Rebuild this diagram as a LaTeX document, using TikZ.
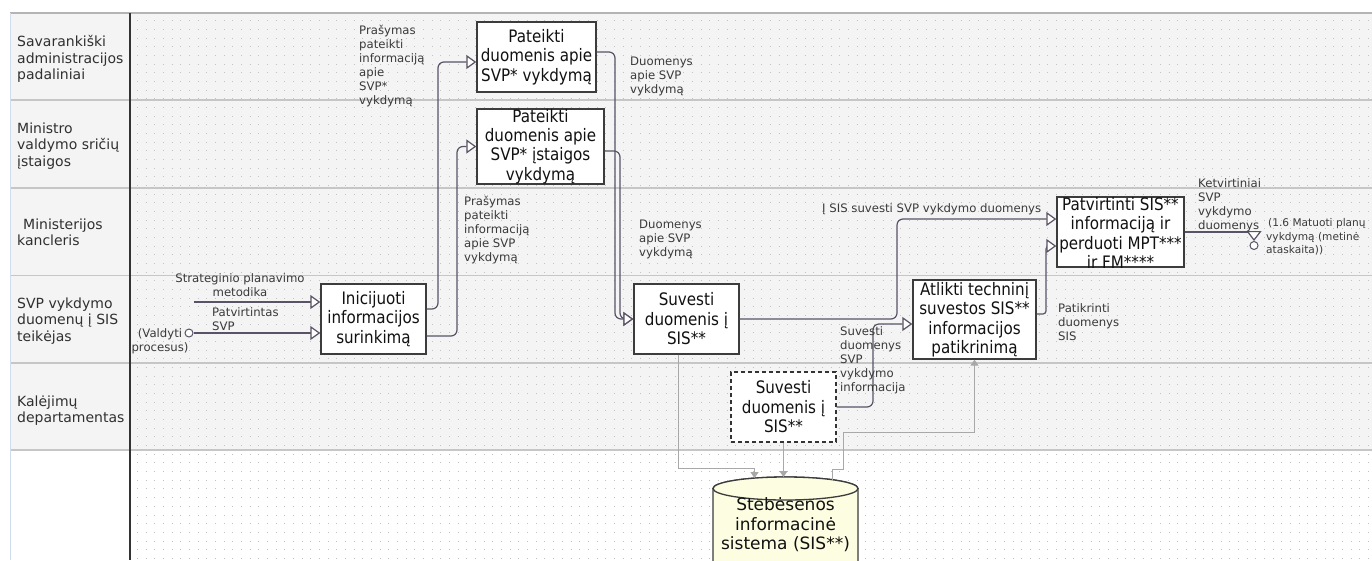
\documentclass[tikz,border=0pt]{standalone}
\usepackage{fontspec}
\setmainfont{DejaVu Sans}
\newfontfamily\boxfont[FakeStretch=0.88]{DejaVu Sans}
\usetikzlibrary{arrows.meta}

\definecolor{lanebg}{HTML}{F4F4F4}
\definecolor{dotc}{HTML}{C2C2C2}
\definecolor{divc}{HTML}{C6C6C6}
\definecolor{topc}{HTML}{B4B4B4}
\definecolor{edgec}{HTML}{CFDDEE}
\definecolor{colc}{HTML}{333333}
\definecolor{boxline}{HTML}{3C3C3C}
\definecolor{boxink}{HTML}{111111}
\definecolor{laneink}{HTML}{303030}
\definecolor{noteink}{HTML}{3A3A3A}
\definecolor{flowc}{HTML}{5A5266}
\definecolor{feedc}{HTML}{A8A8A8}
\definecolor{dbfill}{HTML}{FDFDE2}

\tikzset{
  boxnode/.style={rectangle, draw=boxline, line width=1.4, fill=white, inner sep=0},
  boxtext/.style={font=\boxfont\fontsize{17.2}{19.5}\selectfont, text=boxink, align=center, inner sep=0},
  lanelabel/.style={font=\fontsize{14}{16.5}\selectfont, text=laneink, align=left, anchor=north west, inner sep=0},
  note/.style={font=\fontsize{11.7}{14}\selectfont, text=noteink, align=left, anchor=north west, inner sep=0},
  flowbase/.style={draw=flowc, line width=1.2, -{Triangle[length=10, width=14, fill=white]}},
  flow/.style={flowbase, rounded corners=6},
  feed/.style={draw=feedc, line width=1, -{Triangle[length=6, width=8, fill=feedc]}},
  port/.style={circle, draw=flowc, line width=1, fill=white, minimum size=8, inner sep=0},
  dotrow/.style={draw=dotc, line width=0.8, dash pattern=on 0.8 off 7.87},
  divider/.style={draw=divc, line width=1.5},
}

\begin{document}
\begin{tikzpicture}[x=1pt, y=-1pt]
\useasboundingbox (0,0) rectangle (1372,560);
\clip (0,0) rectangle (1372,560);

% swimlane backgrounds and dot grid
\fill[white] (0,0) rectangle (1372,560);
\fill[lanebg] (10,13) rectangle (1372,450);
\foreach \i in {0,...,62}
  \draw[dotrow] (137,{20.7+8.67*\i}) -- (1372,{20.7+8.67*\i});
\foreach \yy in {100,188,275.5,363,450}
  \draw[divider] (10,\yy) -- (1372,\yy);
\draw[topc, line width=1.5] (10,13) -- (1372,13);
\draw[edgec, line width=1] (10,13) -- (10,560);
\draw[colc, line width=1.3] (130,13) -- (130,560);

% lane titles
\node[lanelabel] (lane1) at (17,35.4) {Savarankiški\\administracijos\\padaliniai};
\node[lanelabel] (lane2) at (17,122.4) {Ministro\\valdymo sričių\\įstaigos};
\node[lanelabel] (lane3) at (17,218.4) {\hspace*{6pt}Ministerijos\\kancleris};
\node[lanelabel] (lane4) at (17,297.4) {SVP vykdymo\\duomenų į SIS\\teikėjas};
\node[lanelabel] (lane5) at (17,395.4) {Kalėjimų\\departamentas};

% database
\path[draw=boxline, line width=1.3, fill=dbfill]
  (713,488.5) -- (713,600) -- (858,600) -- (858,488.5)
  arc[start angle=0, end angle=-180, x radius=72.5, y radius=11.5] -- cycle;
\draw[boxline, line width=1.3, fill=dbfill] (785.5,488.5) ellipse [x radius=72.5, y radius=11.5];
\node[font=\fontsize{17}{19.5}\selectfont, text=boxink, align=center, inner sep=0] (db) at (785.5,525)
  {Stebėsenos\\informacinė\\sistema (SIS**)};
\coordinate (db1) at (754.5,478.1);
\coordinate (db2) at (783.5,477);
\coordinate (db3) at (832,479.7);

% process steps
\node[boxnode, minimum width=119, minimum height=70] (b1) at (536.5,57) {};
\node[boxnode, minimum width=127, minimum height=75] (b2) at (540.5,146.5) {};
\node[boxnode, minimum width=105, minimum height=70] (b3) at (373.5,319) {};
\node[boxnode, minimum width=105, minimum height=70] (b4) at (686.5,319) {};
\node[boxnode, minimum width=123, minimum height=79] (b5) at (974.5,319.5) {};
\node[boxnode, minimum width=127, minimum height=70] (b6) at (1120.5,232) {};
\node[boxnode, minimum width=105, minimum height=70, draw=colc, line width=1.1, dash pattern=on 4 off 3] (b7) at (783.5,407) {};

% inputs to the initiation step
\coordinate (sm) at (194,302);
\node[port] (vp) at (189,333) {};
\draw[flowbase] (sm) -- ([yshift=17]b3.west);
\draw[flowbase] (vp.east) -- ([yshift=-14]b3.west);

% requests and returned data
\draw[flow] ([yshift=10]b3.east) -| (438,62) -- ([yshift=-5]b1.west);
\draw[flow] ([yshift=-17]b3.east) -| (457,146.5) -- (b2.west);
\draw[flow] ([yshift=5]b1.east) -| (615,319) -- (b4.west);
\draw[flow] ([yshift=-4.5]b2.east) -| (620,319) -- (b4.west);

% data entry, checking and approval
\draw[flow] (b4.east) -| (897,219) -- ([yshift=13]b6.west);
\draw[flow] (b7.east) -| (873,324) -- ([yshift=-4.5]b5.west);
\draw[flow, rounded corners=3] ([yshift=5.5]b5.east) -| (1046,246) -- ([yshift=-14]b6.west);

% quarterly output leaving the process
\node[port] (oc) at (1254,245.5) {};
\draw[draw=flowc, line width=1.2, -{Triangle[length=10, width=15, fill=white]}] (b6.east) -| (oc.north);

% links with the monitoring system
\draw[feed] ([xshift=-8.5]b4.south) |- (754.5,468) -- (db1);
\draw[feed] (b7.south) -- (db2);
\draw[feed] (db3) |- (843,469) |- (b5.south |- 0,432) -- (b5.south);

% step texts
\node[boxtext] (b1t) at (b1) {Pateikti\\duomenis apie\\SVP* vykdymą};
\node[boxtext] (b2t) at (b2) {Pateikti\\duomenis apie\\SVP* įstaigos\\vykdymą};
\node[boxtext] (b3t) at (b3) {Inicijuoti\\informacijos\\surinkimą};
\node[boxtext] (b4t) at (b4) {Suvesti\\duomenis į\\SIS**};
\node[boxtext] (b5t) at (b5) {Atlikti techninį\\suvestos SIS**\\informacijos\\patikrinimą};
\node[boxtext] (b6t) at ([yshift=-1]b6.center) {Patvirtinti SIS**\\informaciją ir\\perduoti MPT***\\ir FM****};
\node[boxtext] (b7t) at (b7) {Suvesti\\duomenis į\\SIS**};

% connector labels
\node[note] (n1) at (359,24.5) {Prašymas\\pateikti\\informaciją\\apie\\SVP*\\vykdymą};
\node[note] (n2) at (464,195.5) {Prašymas\\pateikti\\informaciją\\apie SVP\\vykdymą};
\node[note] (n3) at (630,56.5) {Duomenys\\apie SVP\\vykdymą};
\node[note] (n4) at (639,219.5) {Duomenys\\apie SVP\\vykdymą};
\node[note, align=center, anchor=north] (n5) at (240,273.5) {Strateginio planavimo\\metodika};
\node[note] (n6) at (212,307.5) {Patvirtintas\\SVP};
\node[note, align=center, anchor=north] (n7) at (160,328.5) {(Valdyti\\procesus)};
\node[note] (n8) at (822,203.5) {Į SIS suvesti SVP vykdymo duomenys};
\node[note] (n9) at (840,326.5) {Suvesti\\duomenys\\SVP\\vykdymo\\informacija};
\node[note] (n10) at (1058,303.5) {Patikrinti\\duomenys\\SIS};
\node[note] (n11) at (1198,178.5) {Ketvirtiniai\\SVP\\vykdymo\\duomenys};
\node[note, font=\fontsize{10.6}{13.5}\selectfont] (n12) at (1266,218.5) {\hspace*{2pt}(1.6 Matuoti planų\\vykdymą (metinė\\ataskaita))};
\end{tikzpicture}
\end{document}
